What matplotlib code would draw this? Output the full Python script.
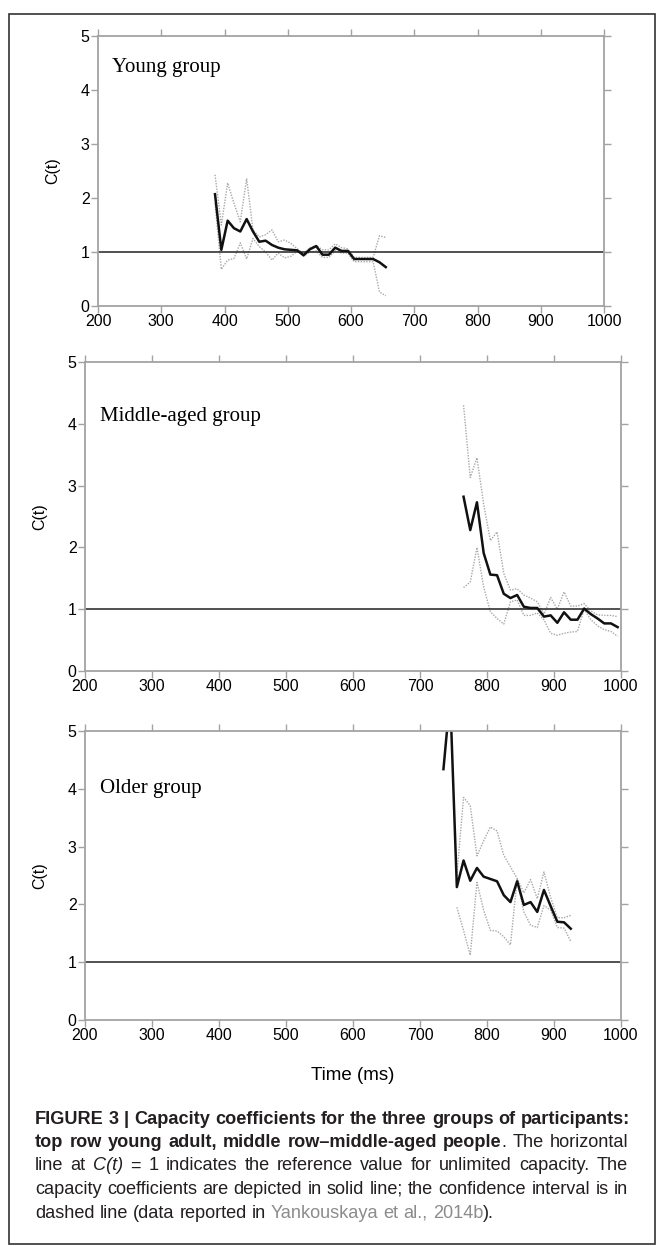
import matplotlib
matplotlib.use("Agg")
import matplotlib.pyplot as plt
from matplotlib.patches import Rectangle

# values: time (ms), C(t), upper / lower confidence bound
young_t = [385, 395, 405, 415, 425, 435, 445, 455, 465, 475, 485, 495, 505, 515,
           525, 535, 545, 555, 565, 575, 585, 595, 605, 615, 625, 635, 645, 655]
young_c = [2.07, 1.04, 1.58, 1.44, 1.38, 1.61, 1.38, 1.19, 1.21, 1.13, 1.08, 1.05, 1.04, 1.03,
           0.94, 1.05, 1.11, 0.95, 0.95, 1.08, 1.02, 1.02, 0.87, 0.87, 0.87, 0.87, 0.81, 0.72]
young_hi = [2.43, 1.50, 2.28, 1.90, 1.56, 2.36, 1.41, 1.28, 1.32, 1.41, 1.19, 1.22, 1.16, 1.06,
            0.97, 1.08, 1.12, 1.04, 1.04, 1.15, 1.08, 1.06, 0.90, 0.90, 0.90, 0.90, 1.30, 1.27]
young_lo = [1.90, 0.68, 0.85, 0.88, 1.17, 0.87, 1.25, 1.10, 1.00, 0.85, 0.98, 0.89, 0.92, 1.02,
            0.92, 1.00, 1.02, 0.90, 0.90, 1.02, 0.98, 0.98, 0.82, 0.82, 0.82, 0.82, 0.26, 0.19]

middle_t = [765, 775, 785, 795, 805, 815, 825, 835, 845, 855, 865, 875,
            885, 895, 905, 915, 925, 935, 945, 955, 965, 975, 985, 995]
middle_c = [2.82, 2.28, 2.73, 1.91, 1.56, 1.55, 1.25, 1.18, 1.23, 1.04, 1.02, 1.02,
            0.88, 0.90, 0.78, 0.95, 0.83, 0.83, 1.01, 0.92, 0.85, 0.77, 0.77, 0.71]
middle_hi = [4.30, 3.13, 3.45, 2.70, 2.11, 2.25, 1.58, 1.31, 1.33, 1.23, 1.18, 1.12,
             0.92, 1.19, 1.00, 1.28, 1.05, 1.05, 1.09, 0.97, 0.91, 0.90, 0.90, 0.88]
middle_lo = [1.35, 1.44, 2.00, 1.36, 0.96, 0.85, 0.76, 1.12, 1.15, 0.90, 0.90, 0.94,
             0.83, 0.61, 0.58, 0.61, 0.63, 0.64, 1.00, 0.83, 0.73, 0.67, 0.64, 0.56]

older_t = [735, 745, 755, 765, 775, 785, 795, 805, 815, 825,
           835, 845, 855, 865, 875, 885, 895, 905, 915, 925]
older_c = [4.34, 5.60, 2.30, 2.76, 2.41, 2.63, 2.48, 2.44, 2.40, 2.16,
           2.04, 2.40, 1.99, 2.04, 1.87, 2.25, 1.97, 1.70, 1.69, 1.58]
older_ci_t = older_t[2:]
older_hi = [2.50, 3.85, 3.71, 2.84, 3.10, 3.34, 3.27, 2.85,
            2.65, 2.45, 2.20, 2.43, 2.10, 2.56, 2.12, 1.77, 1.77, 1.81]
older_lo = [1.95, 1.55, 1.12, 2.38, 1.90, 1.55, 1.54, 1.44,
            1.30, 2.43, 1.87, 1.64, 1.60, 1.98, 1.90, 1.60, 1.59, 1.36]

group_names = ["Young group", "Middle-aged group", "Older group"]
x_ticks = [200, 300, 400, 500, 600, 700, 800, 900, 1000]
y_ticks = [0, 1, 2, 3, 4, 5]

SANS = "Liberation Sans"
W, H = 663, 1246
fig = plt.figure(figsize=(W / 100, H / 100), dpi=100)
renderer = fig.canvas.get_renderer()

def px_box(left, top, right, bottom):
    return [left / W, 1 - bottom / H, (right - left) / W, (bottom - top) / H]

def width(s, fs, weight="normal", style="normal"):
    tmp = fig.text(0, 0, s, fontsize=fs, weight=weight, style=style, family=SANS)
    w = tmp.get_window_extent(renderer).width
    tmp.remove()
    return w

# panel boxes in pixels (left, top, right, bottom)
boxes = [(98, 36, 604, 306), (85, 362, 621, 671), (85, 731, 621, 1020)]
label_y = [0.885, 0.825, 0.80]
panels = [
    (young_t, young_c, young_t, young_hi, young_lo),
    (middle_t, middle_c, middle_t, middle_hi, middle_lo),
    (older_t, older_c, older_ci_t, older_hi, older_lo),
]
grey = "#a3a3a3"

for box, (t, c, ct, hi, lo), name, ly in zip(boxes, panels, group_names, label_y):
    ax = fig.add_axes(px_box(*box))
    ax.plot(ct, hi, color="#a8a8a8", lw=1.0, ls=(0, (1, 1)))
    ax.plot(ct, lo, color="#a8a8a8", lw=1.0, ls=(0, (1, 1)))
    ax.axhline(1, color="#222222", lw=1.1)
    ax.plot(t, c, color="#111111", lw=1.8)
    ax.set_xlim(200, 1000)
    ax.set_ylim(0, 5)
    ax.set_xticks(x_ticks)
    ax.set_yticks(y_ticks)
    for s in ax.spines.values():
        s.set_color(grey)
        s.set_linewidth(1.3)
    ax.tick_params(direction="out", length=5, width=1, color=grey,
                   top=True, right=True, labelsize=11.5, pad=1)
    for lab in ax.get_xticklabels() + ax.get_yticklabels():
        lab.set_fontfamily(SANS)
    ax.text(0.028, ly, name, transform=ax.transAxes, fontsize=15,
            family="Liberation Serif", va="center", ha="left")
    fig.text((box[0] - 45) / W, 1 - (box[1] + box[3]) / 2 / H, "C(t)",
             rotation=90, fontsize=11.5, va="center", ha="center", family=SANS)

fig.text(353 / W, 1 - 1076 / H, "Time (ms)", fontsize=13.5, ha="center", va="center",
         family=SANS)

# caption: (text, weight, style, colour) pieces per line, justified like the journal layout
ink = "#231f20"
caption = [
    [("FIGURE 3 | Capacity coefficients for the three groups of participants:", "bold", "normal", ink)],
    [("top row young adult, middle row\u2013middle-aged people", "bold", "normal", ink),
     (". The horizontal", "normal", "normal", ink)],
    [("line at ", "normal", "normal", ink), ("C(t)", "normal", "italic", ink),
     (" = 1 indicates the reference value for unlimited capacity. The", "normal", "normal", ink)],
    [("capacity coefficients are depicted in solid line; the confidence interval is in",
      "normal", "normal", ink)],
    [("dashed line (data reported in ", "normal", "normal", ink),
     ("Yankouskaya et al., 2014b", "normal", "normal", "#8c8c8c"),
     (").", "normal", "normal", ink)],
]
x0, x1 = 35, 628
fs = 10 * (x1 - x0) / width(caption[0][0][0], 10, "bold")
natural_gap = width("a b", fs) - width("ab", fs)

for i, line in enumerate(caption):
    # split into words, remembering whether a space comes before each one
    frags = []
    pending = False
    for text, weight, style, color in line:
        for k, word in enumerate(text.split(" ")):
            if k > 0:
                pending = True
            if word == "":
                continue
            frags.append((word, weight, style, color, pending and len(frags) > 0))
            pending = False
    ws = [width(f[0], fs, f[1], f[2]) for f in frags]
    nspace = sum(1 for f in frags if f[4])
    gap = natural_gap
    if i < len(caption) - 1 and nspace:
        gap = max(natural_gap, (x1 - x0 - sum(ws)) / nspace)
    x = x0
    y = 1119 + 23.5 * i
    for f, w in zip(frags, ws):
        if f[4]:
            x += gap
        fig.text(x / W, 1 - y / H, f[0], fontsize=fs, weight=f[1], style=f[2],
                 color=f[3], va="center", ha="left", family=SANS)
        x += w

# outer frame
fig.add_artist(Rectangle((9 / W, 1 - 1244 / H), 646 / W, 1230 / H, transform=fig.transFigure,
                         fill=False, ec="#333333", lw=1.2))

fig.savefig("out.png", dpi=100)
